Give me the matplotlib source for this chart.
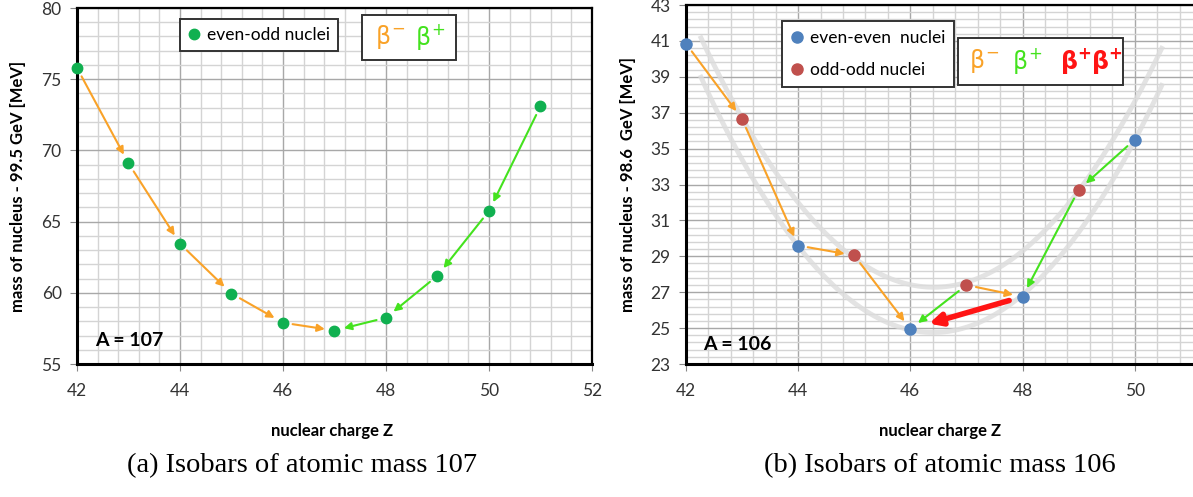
import numpy as np
import matplotlib.pyplot as plt
import matplotlib.patches as patches
from matplotlib.ticker import MultipleLocator

plt.rcParams['font.family'] = ['Lato', 'DejaVu Sans']
plt.rcParams['mathtext.fontset'] = 'custom'
plt.rcParams['mathtext.rm'] = 'DejaVu Sans'
plt.rcParams['mathtext.it'] = 'DejaVu Sans'
plt.rcParams['mathtext.bf'] = 'DejaVu Sans:bold'

# A = 107, even-odd nuclei
z107 = [42, 43, 44, 45, 46, 47, 48, 49, 50, 51]
m107 = [75.8, 69.1, 63.45, 59.95, 57.9, 57.35, 58.25, 61.2, 65.75, 73.1]
# beta decays (from Z, to Z)
bminus107 = [(42, 43), (43, 44), (44, 45), (45, 46), (46, 47)]
bplus107 = [(51, 50), (50, 49), (49, 48), (48, 47)]

# A = 106
z_ee = [42, 44, 46, 48, 50]
m_ee = [40.85, 29.6, 24.95, 26.75, 35.5]
z_oo = [43, 45, 47, 49]
m_oo = [36.65, 29.05, 27.4, 32.7]
bminus106 = [(42, 43), (43, 44), (44, 45), (45, 46), (47, 48)]
bplus106 = [(50, 49), (49, 48), (47, 46)]
bb106 = [(48, 46)]

ORANGE = '#f9a228'
GREEN = '#44e21e'
RED = '#ff1414'

fig = plt.figure(figsize=(11.93, 4.97), dpi=100)
ax1 = fig.add_axes([0.0645, 0.2676, 0.4317, 0.7163])
ax2 = fig.add_axes([0.575, 0.2676, 0.4255, 0.7223])


def style(ax, xmin, xmax, ymin, ymax, ymaj, ymin_step, yoff=0, right=True):
    ax.set_xlim(xmin, xmax)
    ax.set_ylim(ymin, ymax)
    ax.xaxis.set_major_locator(MultipleLocator(2))
    ax.xaxis.set_minor_locator(MultipleLocator(0.4))
    ax.yaxis.set_major_locator(MultipleLocator(ymaj, offset=yoff))
    ax.yaxis.set_minor_locator(MultipleLocator(ymin_step, offset=yoff % ymin_step))
    ax.set_axisbelow(True)
    ax.grid(which='minor', color='#d4d4d4', lw=1.0)
    ax.grid(which='major', color='#a8a8a8', lw=1.0)
    ax.tick_params(which='minor', length=0)
    ax.tick_params(which='major', length=5, color='#888888', labelsize=12.5,
                   labelcolor='#333333')
    ax.tick_params(axis='x', pad=9)
    ax.tick_params(axis='y', pad=6)
    for s in ['left', 'bottom']:
        ax.spines[s].set_linewidth(2.2)
    for s in ['top', 'right']:
        ax.spines[s].set_linewidth(1.6)
    ax.spines['right'].set_visible(right)


def arrows(ax, zs, ms, pairs, color, lw=1.5, scale=11, sa=7, sb=7):
    lookup = dict(zip(zs, ms))
    for a, b in pairs:
        ax.annotate('', xy=(b, lookup[b]), xytext=(a, lookup[a]),
                    arrowprops=dict(arrowstyle='-|>', color=color, lw=lw,
                                    shrinkA=sa, shrinkB=sb, mutation_scale=scale),
                    zorder=3)


def beta_box(ax, box, items, yc, size=17):
    x0, y0, x1, y1 = box
    ax.add_patch(patches.Rectangle((x0, y0), x1 - x0, y1 - y0, transform=ax.transAxes,
                                   facecolor='white', edgecolor='#333333', lw=1.4,
                                   zorder=5))
    for x, s, c in items:
        ax.text(x, yc, s, color=c, fontsize=size, transform=ax.transAxes,
                ha='left', va='center', zorder=6)


# ---- (a) A = 107
style(ax1, 42, 52, 55, 80, 5, 1)
arrows(ax1, z107, m107, bminus107, ORANGE)
arrows(ax1, z107, m107, bplus107, GREEN)
h1, = ax1.plot(z107, m107, 'o', color='#10b050', ms=7.5, ls='none', zorder=4, clip_on=False)
leg1 = ax1.legend([h1], ['even-odd nuclei'], loc='upper left', bbox_to_anchor=(0.2, 0.968),
                  fontsize=12.5, frameon=True, fancybox=False, framealpha=1,
                  edgecolor='#333333', handlelength=0.7, handletextpad=0.4,
                  borderpad=0.45, borderaxespad=0)
leg1.get_frame().set_linewidth(1.4)
leg1.set_zorder(5)
beta_box(ax1, (0.553, 0.854, 0.736, 0.980),
         [(0.578, r'$\beta^{-}$', ORANGE), (0.657, r'$\beta^{+}$', GREEN)], 0.918)
ax1.text(0.035, 0.067, 'A = 107', transform=ax1.transAxes, fontsize=14,
         fontweight='bold', ha='left', va='center')
ax1.set_ylabel('mass of nucleus - 99.5 GeV [MeV]', fontsize=12, fontweight='bold')
ax1.yaxis.set_label_coords(-0.099, 0.5)
ax1.set_xlabel('nuclear charge Z', fontsize=12, fontweight='bold')
ax1.xaxis.set_label_coords(0.495, -0.165)

# ---- (b) A = 106
style(ax2, 42, 51.05, 23, 43, 2, 0.4, yoff=1, right=False)
zz = np.linspace(42.25, 50.5, 200)
ax2.plot(zz, np.polyval(np.polyfit(z_ee, m_ee, 2), zz), color='#dcdcdc', lw=3.5,
         alpha=0.8, zorder=2, solid_capstyle='butt')
ax2.plot(zz, np.polyval(np.polyfit(z_oo, m_oo, 2), zz), color='#dcdcdc', lw=3.5,
         alpha=0.8, zorder=2, solid_capstyle='butt')
all_z = z_ee + z_oo
all_m = m_ee + m_oo
arrows(ax2, all_z, all_m, bminus106, ORANGE)
arrows(ax2, all_z, all_m, bplus106, GREEN)
arrows(ax2, all_z, all_m, bb106, RED, lw=4, scale=18, sa=10, sb=14)
h_ee, = ax2.plot(z_ee, m_ee, 'o', color='#4f81bd', ms=8, ls='none', zorder=4, clip_on=False)
h_oo, = ax2.plot(z_oo, m_oo, 'o', color='#c0504d', ms=8, ls='none', zorder=4)
leg2 = ax2.legend([h_ee, h_oo], ['even-even  nuclei', 'odd-odd nuclei'], loc='upper left',
                  bbox_to_anchor=(0.189, 0.955), fontsize=12.5, frameon=True,
                  fancybox=False, framealpha=1, edgecolor='#333333', handlelength=0.7,
                  handletextpad=0.4, borderpad=0.5, labelspacing=0.95, borderaxespad=0)
leg2.get_frame().set_linewidth(1.4)
leg2.set_zorder(5)
beta_box(ax2, (0.536, 0.777, 0.860, 0.908),
         [(0.558, r'$\beta^{-}$', ORANGE), (0.643, r'$\beta^{+}$', GREEN),
          (0.737, r'$\mathbf{\beta^{+}\beta^{+}}$', RED)], 0.844)
ax2.text(0.034, 0.053, 'A = 106', transform=ax2.transAxes, fontsize=14,
         fontweight='bold', ha='left', va='center')
ax2.set_ylabel('mass of nucleus - 98.6  GeV [MeV]', fontsize=12, fontweight='bold')
ax2.yaxis.set_label_coords(-0.099, 0.5)
ax2.set_xlabel('nuclear charge Z', fontsize=12, fontweight='bold')
ax2.xaxis.set_label_coords(0.501, -0.165)

# captions
fig.text(302 / 1193, 1 - 466 / 497, '(a) Isobars of atomic mass 107', fontsize=20.5,
         family='Liberation Serif', ha='center', va='center')
fig.text(940 / 1193, 1 - 466 / 497, '(b) Isobars of atomic mass 106', fontsize=20.5,
         family='Liberation Serif', ha='center', va='center')

fig.savefig('out.png', dpi=100)
